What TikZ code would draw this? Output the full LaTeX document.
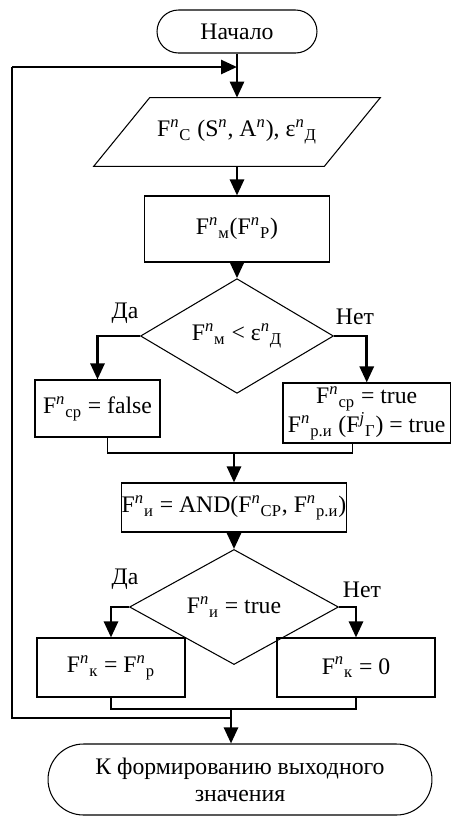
\documentclass[tikz,border=0pt]{standalone}
\usepackage{fontspec}
\setmainfont{Liberation Serif}
\usetikzlibrary{shapes.geometric,shapes.misc,arrows.meta}
\newcommand{\Fn}[1]{F\textsuperscript{\textit{n}}\textsubscript{#1}}
\newcommand{\epsn}[1]{ε\textsuperscript{\textit{n}}\textsubscript{#1}}
\tikzset{
  fcterm/.style={rounded rectangle, draw=black, line width=0.6pt, inner sep=0pt},
  fcproc/.style={rectangle, draw=black, line width=0.6pt, inner sep=0pt},
  fcinput/.style={rectangle, inner sep=0pt},
  fcdecide/.style={diamond, draw=black, line width=0.6pt, inner sep=0pt},
  fcline/.style={line width=0.6pt, draw=black},
  fcloop/.style={line width=0.9pt, draw=black},
  fcarrow/.style={line width=1.5pt, draw=black, -{Triangle[width=0.28cm,length=0.32cm]}},
  fclabel/.style={inner sep=0pt},
}

\begin{document}
\begin{tikzpicture}[x=0.02cm, y=-0.02cm, font=\fontsize{13.5}{15.5}\selectfont]
\useasboundingbox (0,0) rectangle (452,816);
\node[fcterm, minimum width=3.2cm, minimum height=0.86cm] (start) at (237,31.5) {Начало};
\node[fcinput, minimum width=4.6cm, minimum height=1.36cm] (in) at (237,132) {\Fn{С} (S\textsuperscript{\textit{n}}, A\textsuperscript{\textit{n}}), \epsn{Д}};
\draw[fcline] ([xshift=-0.56cm]in.south west) -- ([xshift=0.56cm]in.north west) -- ([xshift=0.56cm]in.north east) -- ([xshift=-0.56cm]in.south east) -- cycle;
\node[fcproc, minimum width=3.7cm, minimum height=1.32cm] (calc) at (237,229) {\Fn{м}(\Fn{Р})};
\node[fcdecide, minimum width=3.86cm, minimum height=1.98cm] (chk) at (237,336) {\Fn{м} < \epsn{Д}};
\node[fclabel] (yes1) at (125,313) {Да};
\node[fclabel] (no1) at (355,317) {Нет};
\node[fcproc, minimum width=2.5cm, minimum height=1.14cm] (fls) at (97.5,408.5) {\Fn{ср} = false};
\node[fcproc, minimum width=3.35cm, minimum height=1.2cm, align=center] (tru) at (366.75,413) {\Fn{ср} = true\\\Fn{р.и} (F\textsuperscript{\textit{j}}\textsubscript{Г}) = true};
\coordinate (mrg1) at (234,453);
\node[fcproc, minimum width=4.34cm, minimum height=0.98cm] (andb) at (234,507.5) {\Fn{и} = AND(\Fn{СР}, \Fn{р.и})};
\node[fcdecide, minimum width=4.18cm, minimum height=1.64cm] (chk2) at (234,607) {\Fn{и} = true};
\node[fclabel] (yes2) at (125,579) {Да};
\node[fclabel] (no2) at (362,590) {Нет};
\node[fcproc, minimum width=2.96cm, minimum height=1.18cm] (keep) at (111,667.5) {\Fn{к} = \Fn{р}};
\node[fcproc, minimum width=3.16cm, minimum height=1.18cm] (zero) at (356,667.5) {\Fn{к} = 0};
\coordinate (mrg2) at (231,709);
\coordinate (back) at (231,718);
\coordinate (corner) at (12,67);
\node[fcterm, minimum width=7.68cm, minimum height=1.42cm, align=center] (fin) at (240,779.5) {К формированию выходного\\значения};
\coordinate (entry) at (start.south |- corner);
\draw[fcarrow] (start.south) -- (in.north);
\draw[fcarrow] (in.south) -- (calc.north);
\draw[fcarrow] (calc.south) -- (chk.north);
\draw[fcarrow] (chk.west) -| (fls.north);
\draw[fcarrow] (chk.east) -| (tru.north);
\draw[fcline] ([xshift=0.2cm]fls.south) |- (mrg1) -| ([xshift=-0.28cm]tru.south);
\draw[fcarrow] (mrg1) -- (andb.north);
\draw[fcarrow] (andb.south) -- (chk2.north);
\draw[fcarrow] (chk2.west) -| (keep.north);
\draw[fcarrow] (chk2.east) -| (zero.north);
\draw[fcline] (keep.south) |- (mrg2) -| (zero.south);
\draw[fcloop] (back) -| (corner);
\draw[fcarrow] (corner) -- (entry);
\draw[fcarrow] (mrg2) -- (mrg2 |- fin.north);
\end{tikzpicture}
\end{document}
